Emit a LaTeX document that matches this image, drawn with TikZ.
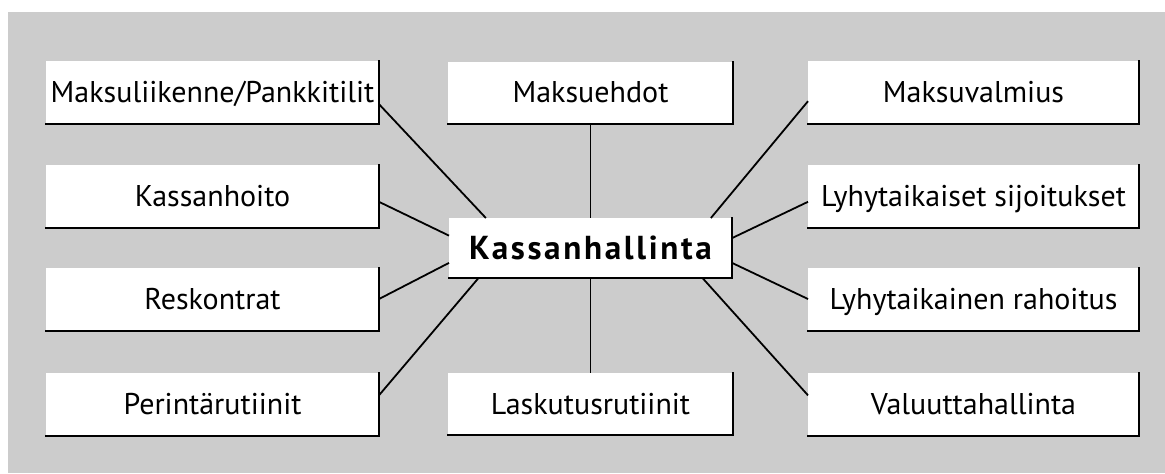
\documentclass[tikz,border=0pt]{standalone}
\usepackage{fontspec}
\setmainfont{PT Sans}
\newfontfamily\hubfont[LetterSpace=8]{PT Sans}

\begin{document}
\begin{tikzpicture}[
    x=0.5pt, y=-0.5pt,
    every node/.style={font=\fontsize{15}{18}\selectfont, align=center,
        inner sep=0pt, outer sep=0pt, text height=10.4pt, text depth=0pt},
    shade line/.style={draw, line width=1pt, line cap=rect},
    topic/.style={rectangle, fill=white, minimum width=166.5pt, minimum height=31.5pt,
        append after command={
            (\tikzlastnode.north east) edge[shade line] (\tikzlastnode.south east)
            (\tikzlastnode.south east) edge[shade line] (\tikzlastnode.south west)}},
    hub/.style={topic, minimum width=141.5pt, minimum height=30pt, text height=11.5pt,
        font=\hubfont\bfseries\fontsize{16.6}{19}\selectfont},
    spoke/.style={draw, line width=0.9pt}
]
% Kassanhallinnan osa-alueet
\useasboundingbox (0,0) rectangle (1165,473);
\fill[black!20] (8,12) rectangle (1165,473);

% vasen sarake
\node[topic] (mp) at (212.5,92.5) {Maksuliikenne/Pankkitilit};
\node[topic] (kh) at (212.5,196)  {Kassanhoito};
\node[topic] (rk) at (212.5,299)  {Reskontrat};
\node[topic] (pr) at (212.5,404)  {Perintärutiinit};

% keskisarake
\node[topic, minimum width=142.5pt, minimum height=31pt] (me) at (590.5,92.5) {Maksuehdot};
\node[hub] (kassa) at (590.5,248) {Kassanhallinta};
\node[topic, minimum width=142.5pt, minimum height=31pt] (lk) at (590.5,404) {Laskutusrutiinit};

% oikea sarake
\node[topic, minimum width=165.5pt] (mv) at (973.5,92.5) {Maksuvalmius};
\node[topic, minimum width=165.5pt] (ls) at (973.5,196)  {Lyhytaikaiset sijoitukset};
\node[topic, minimum width=165.5pt] (lr) at (973.5,299)  {Lyhytaikainen rahoitus};
\node[topic, minimum width=165.5pt] (vh) at (973.5,404)  {Valuuttahallinta};

% yhteydet
\draw[spoke] (mp.-4.3) -- (kassa.164.5);
\draw[spoke] (kh.-2.4) -- (kassa.175.6);
\draw[spoke] (rk.east) -- (kassa.186.9);
\draw[spoke] (pr.3.8)  -- (kassa.195.9);
\draw[spoke] (me.south) -- (kassa.north);
\draw[spoke] (kassa.south) -- (lk.north);
\draw[spoke] (mv.183.6) -- (kassa.14.7);
\draw[spoke] (ls.182.4) -- (kassa.4.4);
\draw[spoke] (lr.west)  -- (kassa.-6);
\draw[spoke] (vh.177.6) -- (kassa.-15.9);
\end{tikzpicture}
\end{document}
